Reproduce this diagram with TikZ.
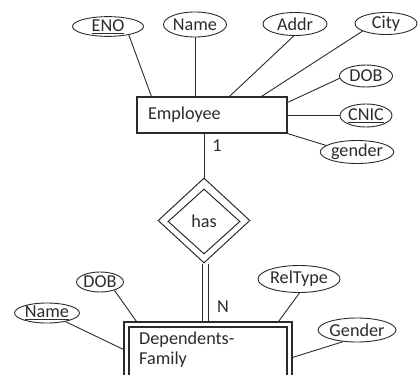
\documentclass[tikz,border=0pt]{standalone}
\usepackage{fontspec}
\setmainfont{Carlito}
\usetikzlibrary{shapes.geometric}
\definecolor{ink}{HTML}{2B2B2B}
\begin{document}
\begin{tikzpicture}[x=1pt,y=-1pt,
  font=\fontsize{18.2}{20}\selectfont, text=ink,
  attr/.style={ellipse, draw=ink, line width=0.9pt, inner sep=0pt},
  entity/.style={rectangle, draw=ink, line width=1.1pt, inner sep=0pt},
  rel/.style={diamond, draw=ink, line width=1pt, inner sep=0pt},
  link/.style={draw=ink, line width=0.9pt},
  lbl/.style={inner sep=0pt}]
\clip (0,0) rectangle (419,374);

% Employee entity and its attributes
\node[entity, text width=128pt, align=left, inner xsep=11pt, minimum height=36pt] (emp) at (212,115) {Employee};
\node[attr, minimum width=71pt, minimum height=19pt] (eno) at (108,26.5) {\underline{ENO}};
\node[attr, minimum width=63pt, minimum height=25pt] (name) at (195,24.5) {Name};
\node[attr, minimum width=64pt, minimum height=23pt] (addr) at (295,24) {Addr};
\node[attr, minimum width=62pt, minimum height=22pt] (city) at (386,23.5) {City};
\node[attr, minimum width=53pt, minimum height=22pt] (dob) at (366,76) {DOB};
\node[attr, minimum width=52pt, minimum height=23pt] (cnic) at (366,115.5) {\underline{CNIC}};
\node[attr, minimum width=69pt, minimum height=23pt] (gender) at (357,152) {gender};

\draw[link] (eno.-22) -- ([xshift=15pt]emp.north west);
\draw[link] (name.south) -- (name.south |- emp.north);
\draw[link] (addr.-96) -- ([xshift=93pt]emp.north west);
\draw[link] (city.198) -- ([xshift=125pt]emp.north west);
\draw[link] (dob.185) -- ([yshift=-6pt]emp.north east);
\draw[link] (cnic.west) -- (cnic.west -| emp.east);
\draw[link] (gender.168) -- (emp.south east);

% Identifying relationship
\node[rel, minimum width=92pt, minimum height=85pt] (hasframe) at (204,220.5) {};
\node[rel, minimum width=72pt, minimum height=65pt] (has) at (204,221.5) {has};

% Weak entity
\node[entity, minimum width=168pt, minimum height=100pt] (dep) at (208,372) {};
\node[entity, minimum width=158pt, minimum height=90pt] (depin) at (208,372) {};
\node[lbl, anchor=north west, align=left] (deptxt) at (139,332) {Dependents-\\Family};

\draw[link] ([xshift=-8pt]emp.south) -- (hasframe.north);
\node[lbl] (one) at (217,146) {1};
\draw[link, double=white, double distance=5.5pt] ([xshift=1.5pt]hasframe.south) -- ([xshift=1.5pt]hasframe.south |- dep.north);
\node[lbl] (many) at (223,307) {N};

% Attributes of the weak entity
\node[attr, minimum width=46pt, minimum height=20pt] (dob2) at (100,282) {DOB};
\node[attr, minimum width=65pt, minimum height=20pt] (name2) at (47,313) {\underline{Name}};
\node[attr, minimum width=82pt, minimum height=27pt] (reltype) at (299,279) {RelType};
\node[attr, minimum width=67pt, minimum height=24pt] (gender2) at (357,330) {Gender};

\draw[link] (dob2.-30) -- ([xshift=13pt]dep.north west);
\draw[link] (name2.-25) -- ([yshift=-28pt]dep.north west);
\draw[link] (reltype.-88) -- ([xshift=-14pt]dep.north east);
\draw[link] (gender2.-140) -- ([yshift=-36pt]dep.north east);
\end{tikzpicture}
\end{document}
